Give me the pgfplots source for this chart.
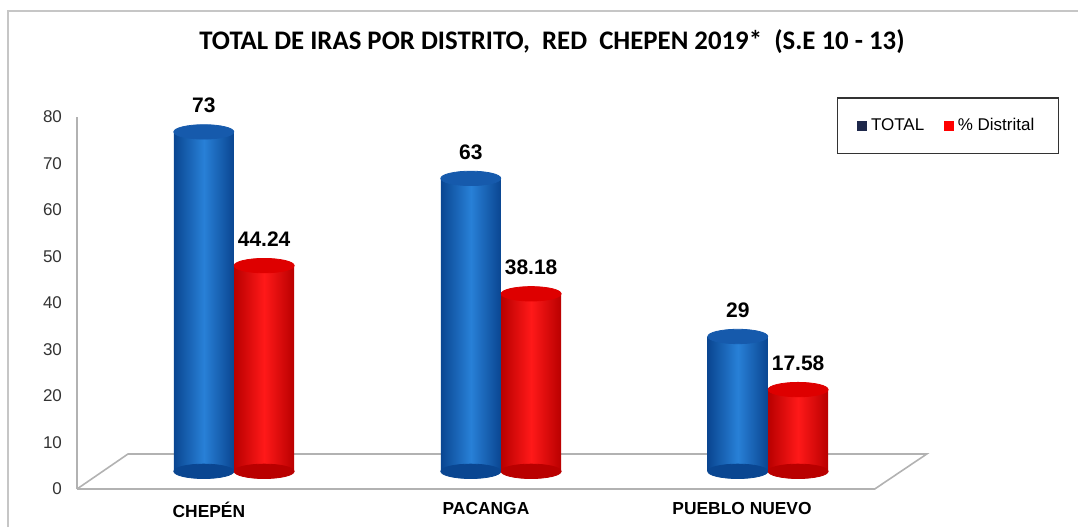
\documentclass[border=0pt]{standalone}
\usepackage{pgfplots}
\pgfplotsset{compat=1.18}
\usepackage{fontspec}
\setmainfont{Liberation Sans}
\newfontfamily\titlefont{Carlito}

\definecolor{blueD}{RGB}{10,70,145}
\definecolor{blueL}{RGB}{40,128,215}
\definecolor{blueT}{RGB}{22,90,172}
\definecolor{redD}{RGB}{185,0,0}
\definecolor{redL}{RGB}{255,25,25}
\definecolor{redT}{RGB}{222,0,0}
\definecolor{navy}{RGB}{30,40,75}

\pgfplotsset{
  cyl/.style={ybar, bar shift=0pt, bar width=0.225, draw=none, forget plot,
    left color=#1D, right color=#1D, middle color=#1L,
    nodes near coords, point meta=explicit symbolic},
  cap/.style={only marks, mark=*, mark size=15pt, forget plot,
    color=#1, mark options={yscale=0.24, fill=#1}},
}

\begin{document}
\begin{tikzpicture}
\useasboundingbox (0,0) rectangle (539pt,263.5pt);
\draw[gray!45, line width=1.2pt] (4pt,0) -- (4pt,258pt) -- (539pt,258pt);
\node[font=\titlefont\bfseries\fontsize{13.4}{15}\selectfont] at (276pt,242.5pt)
  {TOTAL DE IRAS POR DISTRITO,\ \ RED\ \ CHEPEN 2019*\ \ (S.E 10 - 13)};

% ticks, labels and floor
\begin{axis}[
    at={(38.5pt,19pt)}, anchor=south west,
    scale only axis, width=426.5pt, height=186pt,
    xmin=-0.588, xmax=2.607,
    ymin=0, ymax=80,
    axis lines*=left,
    x axis line style={draw=none},
    y axis line style={gray!60, line width=0.8pt},
    ytick={0,10,...,80},
    xtick={-0.094,0.944,1.903},
    xticklabels={CHEPÉN,PACANGA,PUEBLO NUEVO},
    major tick length=0pt,
    tick style={draw=none},
    yticklabel style={font=\fontsize{8.5}{10}\selectfont, text=black!80,
      /pgf/number format/assume math mode=true, xshift=-4pt},
    xticklabel style={font=\bfseries\fontsize{8.7}{10}\selectfont, yshift=-3pt},
  ]
  \addplot[gray!60, line width=0.8pt, no marks] coordinates {
    (-0.588,0) (2.40,0) (2.595,7.53) (-0.397,7.53) (-0.588,0)};
\end{axis}

% bars
\begin{axis}[
    at={(38.5pt,19pt)}, anchor=south west,
    scale only axis, width=426.5pt, height=186pt,
    xmin=-0.588, xmax=2.607,
    ymin=-3.8, ymax=76.2,
    hide axis, clip=false,
    every node near coord/.append style={
      font=\bfseries\fontsize{10.5}{12}\selectfont, yshift=6pt},
    legend style={at={(1.021,0.976)}, anchor=center,
      draw=black!80, line width=0.8pt,
      inner xsep=10pt, inner ysep=8pt,
      font=\fontsize{8.5}{10}\selectfont,
      /tikz/every even column/.append style={column sep=8pt}},
    legend columns=2,
    legend cell align=left,
  ]
  % bottom ellipses
  \addplot[cap=blueD] coordinates {(-0.113,0) (0.887,0) (1.887,0)};
  \addplot[cap=redD] coordinates {(0.113,0) (1.113,0) (2.113,0)};

  % TOTAL
  \addplot[cyl=blue] coordinates {(-0.113,73)[73]};
  \addplot[cyl=blue] coordinates {(0.887,63)[63]};
  \addplot[cyl=blue] coordinates {(1.887,29)[29]};
  % % Distrital
  \addplot[cyl=red] coordinates {(0.113,44.24)[44.24]};
  \addplot[cyl=red] coordinates {(1.113,38.18)[38.18]};
  \addplot[cyl=red] coordinates {(2.113,17.58)[17.58]};

  % top ellipses
  \addplot[cap=blueT] coordinates {(-0.113,73) (0.887,63) (1.887,29)};
  \addplot[cap=redT] coordinates {(0.113,44.24) (1.113,38.18) (2.113,17.58)};

  \addlegendimage{legend image code/.code={\fill[navy] (0pt,-2pt) rectangle (4pt,2pt);}}
  \addlegendentry{TOTAL}
  \addlegendimage{legend image code/.code={\fill[red] (0pt,-2pt) rectangle (4pt,2pt);}}
  \addlegendentry{\% Distrital}
\end{axis}
\end{tikzpicture}
\end{document}
